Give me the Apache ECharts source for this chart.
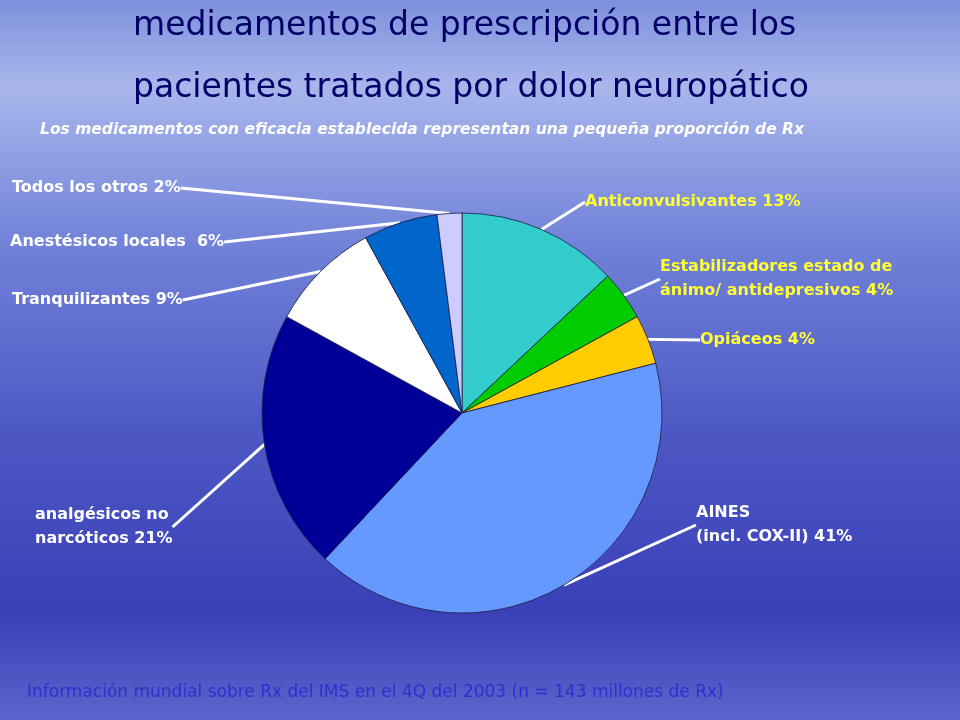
<!DOCTYPE html>
<html><head><meta charset="utf-8">
<script src="https://cdn.jsdelivr.net/npm/echarts@6/dist/echarts.min.js"></script>
<style>html,body{margin:0;padding:0}#c{width:960px;height:720px}</style>
</head><body><div id="c"></div>
<script>
const categories = ['Anticonvulsivantes 13%','Estabilizadores estado de\nánimo/ antidepresivos 4%','Opiáceos 4%','AINES\n(incl. COX-II) 41%','analgésicos no\nnarcóticos 21%','Tranquilizantes 9%','Anestésicos locales  6%','Todos los otros 2%'];
const values = [13,4,4,41,21,9,6,2];
const colors = ['#33CCCC','#00CC00','#FFCC00','#6699FF','#000099','#FFFFFF','#0066CC','#CCCCFF'];
const labelColors = ['#FFFF33','#FFFF33','#FFFF33','#FFFFFF','#FFFFFF','#FFFFFF','#FFFFFF','#FFFFFF'];
const labelPos = [[585,202,'left'],[660,279,'left'],[700,340,'left'],[696,525,'left'],[35,527,'left'],[12,300,'left'],[10,242,'left'],[12,188,'left']];
const chart = echarts.init(document.getElementById('c'));
chart.setOption({
  backgroundColor:{type:'linear',x:0,y:0,x2:0,y2:1,colorStops:[
    {offset:0,color:'#7d90dc'},{offset:0.12,color:'#a8b6ec'},{offset:0.35,color:'#6f80d8'},
    {offset:0.6,color:'#4d58c4'},{offset:0.85,color:'#3a40b8'},{offset:1,color:'#5a66cc'}]},
  title:[
    {text:'medicamentos de prescripción entre los\npacientes tratados por dolor neuropático',left:128,top:-10,
     textStyle:{fontFamily:'DejaVu Sans',fontSize:33,color:'#000066',fontWeight:'normal',lineHeight:62,
       textShadowColor:'rgba(230,235,255,0.7)',textShadowOffsetX:2,textShadowOffsetY:2,textShadowBlur:0}},
    {text:'Los medicamentos con eficacia establecida representan una pequeña proporción de Rx',left:35,top:117,
     textStyle:{fontFamily:'DejaVu Sans',fontSize:15.5,color:'#FFFFFF',fontWeight:'bold',fontStyle:'italic'}},
    {text:'Información mundial sobre Rx del IMS en el 4Q del 2003 (n = 143 millones de Rx)',left:22,top:679,
     textStyle:{fontFamily:'DejaVu Sans',fontSize:17,color:'#2f2fd0',fontWeight:'normal'}}
  ],
  series:[{
    type:'pie',center:[462,413],radius:[0,200],startAngle:90,clockwise:true,
    data:values.map((v,i)=>({value:v,name:categories[i],itemStyle:{color:colors[i]},label:{color:labelColors[i]}})),
    itemStyle:{borderColor:'#1a1a40',borderWidth:0.8},
    label:{show:true,position:'outside',formatter:'{b}',fontFamily:'DejaVu Sans',fontSize:16,fontWeight:'bold',lineHeight:24},
    labelLine:{show:true,length:20,length2:0,lineStyle:{color:'#FFFFFF',width:3}},
    labelLayout:function(p){const q=labelPos[p.dataIndex];return {x:q[0],y:q[1],align:q[2],verticalAlign:'middle'};},
    emphasis:{disabled:true},animation:false
  }]
});
</script></body></html>
